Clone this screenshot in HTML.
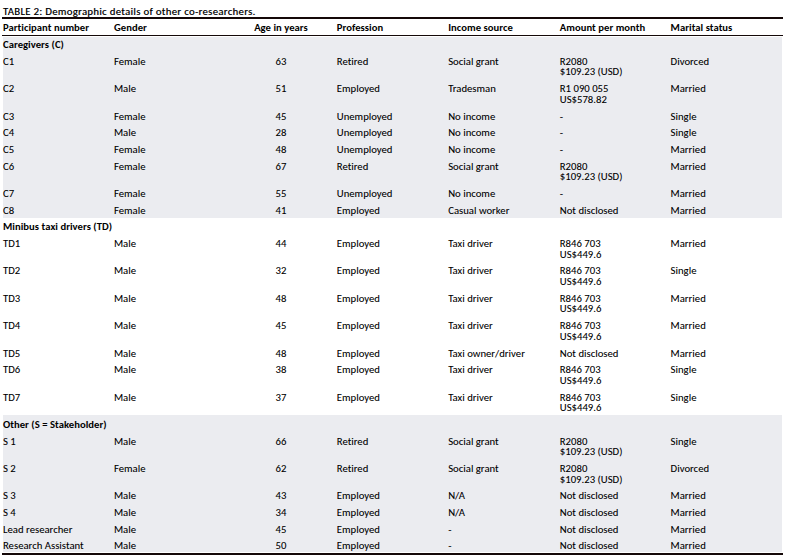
<!DOCTYPE html>
<html lang="en"><head><meta charset="utf-8"><title>Table 2: Demographic details of other co-researchers</title>
<style>
html,body{margin:0;padding:0;background:#fff;}
body{width:789px;height:560px;position:relative;overflow:hidden;font-family:Calibri,Carlito,"Liberation Sans",sans-serif;color:#000;}
table{position:absolute;left:2px;top:6px;width:781px;border-collapse:separate;border-spacing:0;table-layout:fixed;font-size:10.64px;line-height:12px;letter-spacing:0.04px;text-shadow:0.25px 0 0 rgba(0,0,0,0.2);}
caption{caption-side:top;text-align:left;height:11px;padding:0 0 0 1px;line-height:12px;letter-spacing:0.37px;white-space:nowrap;font-weight:normal;text-shadow:0.35px 0 0 rgba(0,0,0,0.5);}
th,td{padding:0;vertical-align:top;text-align:left;white-space:nowrap;font-weight:normal;}
thead th{font-weight:bold;text-shadow:none;height:16px;padding-top:3px;box-sizing:border-box;border-top:2px solid #140808;border-bottom:1px solid #140808;}
thead tr{height:19px;}
tbody th,tbody td{padding-top:var(--p);}
tr.sec th{font-weight:bold;text-shadow:none;}
tbody td:first-child,tbody th{border-left:1px solid #fff;}
tbody td:last-child,tbody th{border-right:1px solid #fff;}
tr.band td,tr.band th{background:#ebecf0;}
tr.gap td{height:1px;padding:0;border:0;}
tr.foot td{height:1px;padding:0;border-left:0;border-right:0;border-bottom:2px solid #140808;}
col.c1{width:112px;} col.c2{width:127px;} col.c3{width:80px;} col.c4{width:126px;} col.c5{width:112px;} col.c6{width:111px;} col.c7{width:113px;}
td:nth-child(1){padding-left:0;}
thead th:nth-child(1){padding-left:1px;}
tbody th{padding-left:0;}
td:nth-child(3),th:nth-child(3){text-align:center;}
td:nth-child(4),th:nth-child(4){padding-left:15.8px;}
td:nth-child(5),th:nth-child(5){padding-left:1.2px;}
td:nth-child(6),th:nth-child(6){padding-left:0.8px;}
td:nth-child(7),th:nth-child(7){padding-left:0.6px;}
.g10{margin-top:-2px;}
.g11{margin-top:-1px;}
</style></head><body>
<table>
<caption>TABLE 2: Demographic details of other co-researchers.</caption>
<colgroup><col class="c1"><col class="c2"><col class="c3"><col class="c4"><col class="c5"><col class="c6"><col class="c7"></colgroup>
<thead><tr><th scope="col">Participant number</th><th scope="col">Gender</th><th scope="col">Age in years</th><th scope="col">Profession</th><th scope="col">Income source</th><th scope="col">Amount per month</th><th scope="col">Marital status</th></tr></thead>
<tbody class="spacer"><tr class="gap"><td colspan="7"></td></tr></tbody>
<tbody>
<tr class="band sec" style="height:17px;--p:2px"><th colspan="7" scope="rowgroup">Caregivers (C)</th></tr>
<tr class="band" style="height:27px;--p:2px"><td>C1</td><td>Female</td><td>63</td><td>Retired</td><td>Social grant</td><td><div>R2080</div><div class="g10">$109.23 (USD)</div></td><td>Divorced</td></tr>
<tr class="band" style="height:28px;--p:2px"><td>C2</td><td>Male</td><td>51</td><td>Employed</td><td>Tradesman</td><td><div>R1 090 055</div><div class="g11">US$578.82</div></td><td>Married</td></tr>
<tr class="band" style="height:16px;--p:2px"><td>C3</td><td>Female</td><td>45</td><td>Unemployed</td><td>No income</td><td>-</td><td>Single</td></tr>
<tr class="band" style="height:17px;--p:2px"><td>C4</td><td>Male</td><td>28</td><td>Unemployed</td><td>No income</td><td>-</td><td>Single</td></tr>
<tr class="band" style="height:17px;--p:2px"><td>C5</td><td>Female</td><td>48</td><td>Unemployed</td><td>No income</td><td>-</td><td>Married</td></tr>
<tr class="band" style="height:27px;--p:2px"><td>C6</td><td>Female</td><td>67</td><td>Retired</td><td>Social grant</td><td><div>R2080</div><div class="g10">$109.23 (USD)</div></td><td>Married</td></tr>
<tr class="band" style="height:17px;--p:2px"><td>C7</td><td>Female</td><td>55</td><td>Unemployed</td><td>No income</td><td>-</td><td>Married</td></tr>
<tr class="band" style="height:15px;--p:2px"><td>C8</td><td>Female</td><td>41</td><td>Employed</td><td>Casual worker</td><td>Not disclosed</td><td>Married</td></tr>
</tbody>
<tbody>
<tr class="sec" style="height:18px;--p:3px"><th colspan="7" scope="rowgroup">Minibus taxi drivers (TD)</th></tr>
<tr class="" style="height:27px;--p:2px"><td>TD1</td><td>Male</td><td>44</td><td>Employed</td><td>Taxi driver</td><td><div>R846 703</div><div class="g11">US$449.6</div></td><td>Married</td></tr>
<tr class="" style="height:28px;--p:2px"><td>TD2</td><td>Male</td><td>32</td><td>Employed</td><td>Taxi driver</td><td><div>R846 703</div><div class="g11">US$449.6</div></td><td>Single</td></tr>
<tr class="" style="height:27px;--p:2px"><td>TD3</td><td>Male</td><td>48</td><td>Employed</td><td>Taxi driver</td><td><div>R846 703</div><div class="g10">US$449.6</div></td><td>Married</td></tr>
<tr class="" style="height:28px;--p:2px"><td>TD4</td><td>Male</td><td>45</td><td>Employed</td><td>Taxi driver</td><td><div>R846 703</div><div class="g11">US$449.6</div></td><td>Married</td></tr>
<tr class="" style="height:16px;--p:2px"><td>TD5</td><td>Male</td><td>48</td><td>Employed</td><td>Taxi owner/driver</td><td>Not disclosed</td><td>Married</td></tr>
<tr class="" style="height:28px;--p:2px"><td>TD6</td><td>Male</td><td>38</td><td>Employed</td><td>Taxi driver</td><td><div>R846 703</div><div class="g11">US$449.6</div></td><td>Single</td></tr>
<tr class="" style="height:25px;--p:2px"><td>TD7</td><td>Male</td><td>37</td><td>Employed</td><td>Taxi driver</td><td><div>R846 703</div><div class="g10">US$449.6</div></td><td>Single</td></tr>
</tbody>
<tbody>
<tr class="band sec" style="height:19px;--p:4px"><th colspan="7" scope="rowgroup">Other (S = Stakeholder)</th></tr>
<tr class="band" style="height:27px;--p:2px"><td>S 1</td><td>Male</td><td>66</td><td>Retired</td><td>Social grant</td><td><div>R2080</div><div class="g10">$109.23 (USD)</div></td><td>Single</td></tr>
<tr class="band" style="height:27px;--p:2px"><td>S 2</td><td>Female</td><td>62</td><td>Retired</td><td>Social grant</td><td><div>R2080</div><div class="g11">$109.23 (USD)</div></td><td>Divorced</td></tr>
<tr class="band" style="height:17px;--p:2px"><td>S 3</td><td>Male</td><td>43</td><td>Employed</td><td>N/A</td><td>Not disclosed</td><td>Married</td></tr>
<tr class="band" style="height:17px;--p:2px"><td>S 4</td><td>Male</td><td>34</td><td>Employed</td><td>N/A</td><td>Not disclosed</td><td>Married</td></tr>
<tr class="band" style="height:16px;--p:2px"><td>Lead researcher</td><td>Male</td><td>45</td><td>Employed</td><td>-</td><td>Not disclosed</td><td>Married</td></tr>
<tr class="band" style="height:14px;--p:2px"><td>Research Assistant</td><td>Male</td><td>50</td><td>Employed</td><td>-</td><td>Not disclosed</td><td>Married</td></tr>
</tbody>
<tbody class="end"><tr class="foot"><td colspan="7"></td></tr></tbody>
</table>
</body></html>
